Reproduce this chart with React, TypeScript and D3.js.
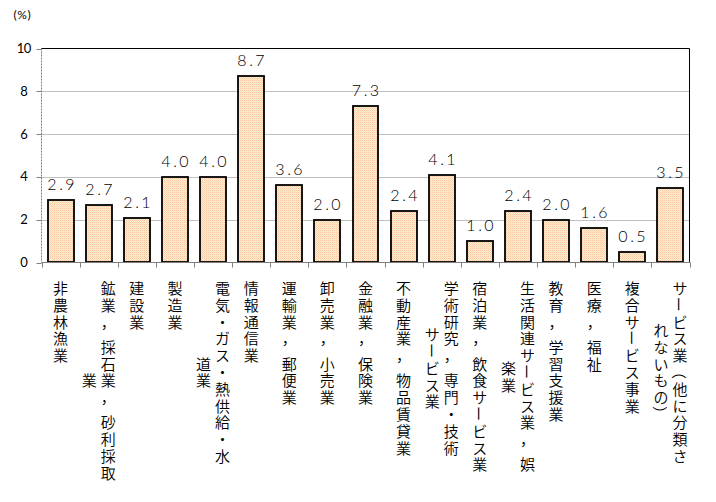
import React from "react";
import * as d3 from "d3";

const categories: string[] = [
  "非農林漁業",
  "鉱業，採石業，砂利採取\n業",
  "建設業",
  "製造業",
  "電気・ガス・熱供給・水\n道業",
  "情報通信業",
  "運輸業，郵便業",
  "卸売業，小売業",
  "金融業，保険業",
  "不動産業，物品賃貸業",
  "学術研究，専門・技術\nサービス業",
  "宿泊業，飲食サービス業",
  "生活関連サービス業，娯\n楽業",
  "教育，学習支援業",
  "医療，福祉",
  "複合サービス事業",
  "サービス業（他に分類さ\nれないもの）",
];
const values: number[] = [2.9, 2.7, 2.1, 4.0, 4.0, 8.7, 3.6, 2.0, 7.3, 2.4, 4.1, 1.0, 2.4, 2.0, 1.6, 0.5, 3.5];
const yTicks: number[] = [0, 2, 4, 6, 8, 10];
const unitLabel = "(%)";

const W = 716;
const H = 502;
const plot = { left: 41.5, right: 689.5, top: 48.5, bottom: 262.5 };

const PITCH = 16.8;
const COL_PITCH = 19;
const LABEL_TOP = 279;
const ROTATE = new Set(["ー", "（", "）"]);
const NUM_FONT = "Lato, 'DejaVu Sans', sans-serif";

function charUnits(ch: string) {
  return ch === "，" ? 1.5 : 1;
}

function MonoText({ x, y, text, pitch, size, weight = 300 }: { x: number; y: number; text: string; pitch: number; size: number; weight?: number }) {
  const chars = Array.from(text);
  const start = x - ((chars.length - 1) / 2) * pitch;
  return (
    <g>
      {chars.map((ch, i) => (
        <text
          key={i}
          x={start + i * pitch}
          y={y}
          textAnchor="middle"
          fontSize={size}
          fontFamily={NUM_FONT}
          fontWeight={weight}
          fill="#000"
        >
          {ch}
        </text>
      ))}
    </g>
  );
}

export default function App() {
  const x = d3
    .scaleBand<string>()
    .domain(categories)
    .range([plot.left, plot.right])
    .paddingInner(0.32)
    .paddingOuter(0.16);
  const step = x.step();
  const y = d3.scaleLinear().domain([0, 10]).range([plot.bottom, plot.top]);

  const boundaries = d3.range(categories.length + 1).map((i) => plot.left + i * step);

  return (
    <svg
      width={W}
      height={H}
      style={{ position: "absolute", left: 0, top: 0, background: "#fff" }}
      fontFamily="'Noto Sans CJK JP', sans-serif"
    >
      <defs>
        <pattern id="dots" patternUnits="userSpaceOnUse" x={0} y={0} width={2} height={2}>
          <rect width={2} height={2} fill="#FFF0CC" />
          <rect x={0} y={0} width={1} height={1} fill="#F9C4A6" />
          <rect x={1} y={1} width={1} height={1} fill="#FCD8B8" />
        </pattern>
      </defs>

      {/* gridlines */}
      {yTicks
        .filter((t) => t > 0 && t < 10)
        .map((t) => (
          <line
            key={"g" + t}
            x1={plot.left}
            x2={plot.right}
            y1={Math.round(y(t)) + 0.5}
            y2={Math.round(y(t)) + 0.5}
            stroke="#808080"
            strokeWidth={1}
            strokeDasharray="1,1"
          />
        ))}

      {/* left axis */}
      <line x1={plot.left} x2={plot.left} y1={plot.top} y2={plot.bottom} stroke="#808080" strokeDasharray="2,1" />
      {yTicks.map((t) => (
        <g key={"yt" + t}>
          <line
            x1={plot.left - 5}
            x2={plot.left}
            y1={Math.round(y(t)) + 0.5}
            y2={Math.round(y(t)) + 0.5}
            stroke="#808080"
          />
          <MonoText x={24} y={y(t) + 4.5} text={String(t)} pitch={7} size={13} weight={400} />
        </g>
      ))}
      <MonoText x={22} y={19} text={unitLabel} pitch={7} size={12} weight={400} />

      {/* top and right border */}
      <line x1={plot.left} x2={plot.right} y1={plot.top} y2={plot.top} stroke="#000" />
      <line x1={plot.right} x2={plot.right} y1={plot.top} y2={plot.bottom} stroke="#000" />

      {/* bars */}
      {categories.map((c, i) => {
        const x0 = Math.round(x(c)!);
        const x1 = Math.round(x(c)! + x.bandwidth());
        const yt = Math.round(y(values[i]));
        return (
          <g key={"b" + i}>
            <rect
              x={x0}
              y={yt}
              width={x1 - x0}
              height={plot.bottom - 0.5 - yt}
              fill="url(#dots)"
              stroke="#000"
              strokeWidth={1.8}
            />
            <MonoText x={(x0 + x1) / 2} y={yt - 10} text={values[i].toFixed(1)} pitch={9} size={16} />
          </g>
        );
      })}

      {/* bottom axis */}
      <line x1={plot.left} x2={plot.right} y1={plot.bottom} y2={plot.bottom} stroke="#808080" />
      {boundaries.map((bx, i) => (
        <line
          key={"xt" + i}
          x1={Math.round(bx) + 0.5}
          x2={Math.round(bx) + 0.5}
          y1={plot.bottom}
          y2={plot.bottom + 5}
          stroke="#808080"
        />
      ))}

      {/* category labels (vertical) */}
      {categories.map((c, i) => {
        const cols = c.split("\n");
        const heights = cols.map((col) => Array.from(col).reduce((s, ch) => s + charUnits(ch), 0));
        const maxH = Math.max(...heights);
        const cx = x(c)! + x.bandwidth() / 2;
        const n = cols.length;
        return (
          <g key={"l" + i}>
            {cols.map((col, ci) => {
              const colX = cx + ((n - 1) / 2 - ci) * COL_PITCH;
              let cur = LABEL_TOP + ((maxH - heights[ci]) / 2) * PITCH;
              return Array.from(col).map((ch, k) => {
                const u = charUnits(ch);
                const cy = cur + PITCH / 2;
                cur += u * PITCH;
                const rot = ROTATE.has(ch);
                return (
                  <text
                    key={ci + "-" + k}
                    x={colX}
                    y={cy}
                    textAnchor="middle"
                    dominantBaseline="central"
                    fontSize={15}
                    fontWeight={350}
                    transform={rot ? `rotate(90 ${colX} ${cy})` : undefined}
                  >
                    {ch}
                  </text>
                );
              });
            })}
          </g>
        );
      })}
    </svg>
  );
}
